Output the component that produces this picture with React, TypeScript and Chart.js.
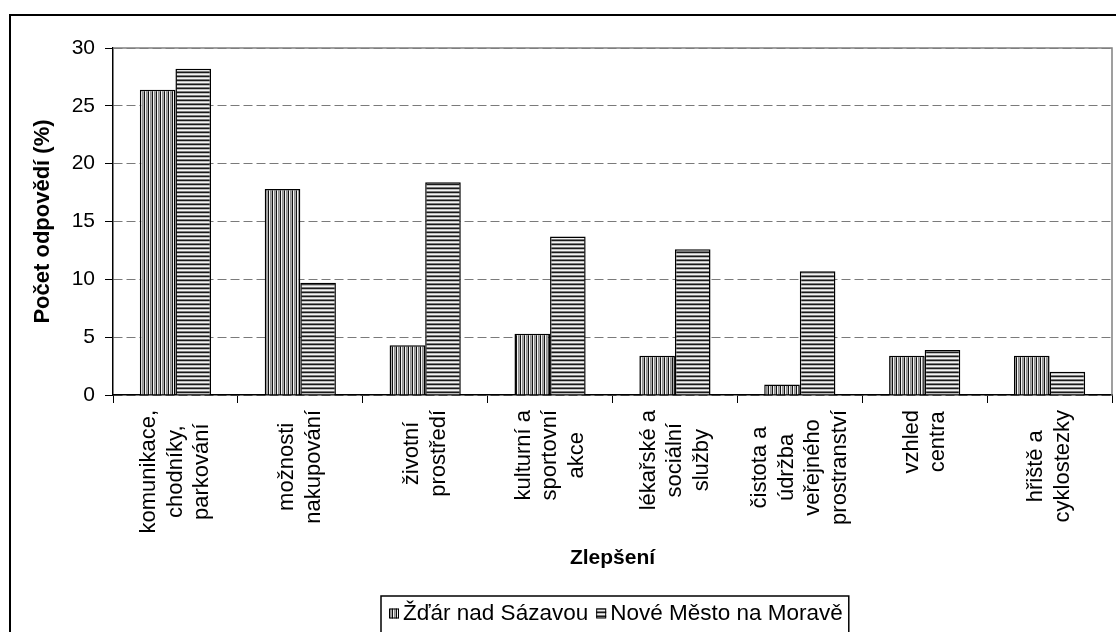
import React, { useEffect, useRef } from "react";
import { Chart, registerables } from "chart.js";

Chart.register(...registerables);

const categories: string[][] = [
  ["komunikace,", "chodníky,", "parkování"],
  ["možnosti", "nakupování"],
  ["životní", "prostředí"],
  ["kulturní a", "sportovní", "akce"],
  ["lékařské a", "sociální", "služby"],
  ["čistota a", "údržba", "veřejného", "prostranství"],
  ["vzhled", "centra"],
  ["hřiště a", "cyklostezky"],
];
const seriesNames = ["Žďár nad Sázavou", "Nové Město na Moravě"];
const zdarValues = [26.4, 17.8, 4.3, 5.3, 3.4, 0.9, 3.4, 3.4];
const noveValues = [28.2, 9.7, 18.4, 13.7, 12.6, 10.7, 3.9, 2.0];
const yTicks = [0, 5, 10, 15, 20, 25, 30];
const yTitle = "Počet odpovědí (%)";
const xTitle = "Zlepšení";

const FONT = '"Liberation Sans", Arial, sans-serif';

function makePattern(vertical: boolean): CanvasPattern | string {
  const c = document.createElement("canvas");
  c.width = 4;
  c.height = 4;
  const g = c.getContext("2d");
  if (!g) return "#999";
  const cols = vertical ? ["#111", "#f4f4f4", "#8f8f8f", "#a8a8a8"] : ["#1a1a1a", "#bdbdbd", "#f4f4f4", "#7a7a7a"];
  for (let i = 0; i < 4; i++) {
    g.fillStyle = cols[i];
    if (vertical) g.fillRect(i, 0, 1, 4);
    else g.fillRect(0, i, 4, 1);
  }
  return g.createPattern(c, "repeat") || "#999";
}

export default function App() {
  const ref = useRef<HTMLCanvasElement | null>(null);

  useEffect(() => {
    if (!ref.current) return;
    const patV = makePattern(true);
    const patH = makePattern(false);
    const patterns = [patV, patH];

    const decor = {
      id: "decor",
      beforeDraw(chart: any) {
        const ctx = chart.ctx;
        ctx.save();
        ctx.fillStyle = "#fff";
        ctx.fillRect(0, 0, chart.width, chart.height);
        ctx.restore();
      },
      afterDraw(chart: any) {
        const ctx = chart.ctx;
        const { left, right, top, bottom } = chart.chartArea;
        ctx.save();
        ctx.strokeStyle = "#808080";
        ctx.lineWidth = 1.5;
        ctx.beginPath();
        ctx.moveTo(left, top);
        ctx.lineTo(right, top);
        ctx.lineTo(right, bottom);
        ctx.stroke();
        ctx.strokeStyle = "#000";
        ctx.lineWidth = 2;
        ctx.beginPath();
        ctx.moveTo(10, 700);
        ctx.lineTo(10, 15);
        ctx.lineTo(1200, 15);
        ctx.stroke();

        const xs = chart.scales.x;
        ctx.font = `22px ${FONT}`;
        ctx.fillStyle = "#000";
        const labels: string[][] = chart.data.labels;
        labels.forEach((lines, i) => {
          const x = xs.getPixelForValue(i);
          const maxW = Math.max(...lines.map((l) => ctx.measureText(l).width));
          const cy = 410 + maxW / 2;
          const n = lines.length;
          const lh = 26.5;
          lines.forEach((line, j) => {
            ctx.save();
            ctx.translate(x + (j - (n - 1) / 2) * lh, cy);
            ctx.rotate(-Math.PI / 2);
            ctx.textAlign = "center";
            ctx.textBaseline = "middle";
            ctx.fillText(line, 0, 0);
            ctx.restore();
          });
        });

        const ds = chart.data.datasets;
        ctx.font = `22.5px ${FONT}`;
        const boxX = 381;
        const boxY = 596;
        const boxH = 33;
        let cx = boxX + 8;
        const cyL = boxY + boxH / 2 + 1;
        const items: { x: number; tx: number; w: number }[] = [];
        ds.forEach((d: any) => {
          const w = ctx.measureText(d.label).width;
          items.push({ x: cx, tx: cx + 14, w });
          cx += 14 + w + 8;
        });
        const boxW = cx - 8 + 6 - boxX;
        ctx.strokeStyle = "#000";
        ctx.lineWidth = 1.5;
        ctx.strokeRect(boxX, boxY, boxW, boxH + 6);
        ds.forEach((d: any, i: number) => {
          const it = items[i];
          ctx.fillStyle = patterns[i];
          ctx.fillRect(it.x, cyL - 5, 10, 10);
          ctx.lineWidth = 1;
          ctx.strokeStyle = "#000";
          ctx.strokeRect(it.x + 0.5, cyL - 4.5, 9, 9);
          ctx.fillStyle = "#000";
          ctx.textAlign = "left";
          ctx.textBaseline = "middle";
          ctx.fillText(d.label, it.tx, cyL);
        });
        ctx.restore();
      },
    };

    const chart = new Chart(ref.current, {
      type: "bar",
      data: {
        labels: categories as any,
        datasets: [
          {
            label: seriesNames[0],
            data: zdarValues,
            backgroundColor: patV as any,
            borderColor: "#000",
            borderWidth: 1.5,
            categoryPercentage: 0.57,
            barPercentage: 1,
          },
          {
            label: seriesNames[1],
            data: noveValues,
            backgroundColor: patH as any,
            borderColor: "#000",
            borderWidth: 1.5,
            categoryPercentage: 0.57,
            barPercentage: 1,
          },
        ],
      },
      options: {
        animation: false,
        responsive: false,
        devicePixelRatio: 1,
        layout: { padding: { top: 48, right: 4, bottom: 0, left: 0 } },
        plugins: {
          legend: { display: false },
          tooltip: { enabled: false },
        },
        scales: {
          x: {
            offset: true,
            grid: {
              offset: true,
              drawOnChartArea: false,
              drawTicks: true,
              tickLength: 8,
              tickColor: "#000",
              tickWidth: 1,
            },
            border: { display: true, color: "#000", width: 1.5 },
            ticks: { display: false },
            title: {
              display: true,
              text: xTitle,
              color: "#000",
              font: { family: FONT, size: 21, weight: "bold" },
              padding: { top: 0, bottom: 61 },
            },
            afterFit: (scale: any) => {
              scale.height = 237;
            },
          },
          y: {
            min: 0,
            max: 30,
            afterBuildTicks: (scale: any) => {
              scale.ticks = yTicks.map((v) => ({ value: v }));
            },
            grid: {
              color: "#7a7a7a",
              lineWidth: 1,
              drawTicks: true,
              tickLength: 8,
              tickColor: "#000",
              tickWidth: 1,
            },
            border: { display: true, color: "#000", width: 1.5, dash: [9, 4] },
            ticks: {
              color: "#000",
              padding: 10,
              font: { family: FONT, size: 21 },
            },
            title: {
              display: true,
              text: yTitle,
              color: "#000",
              font: { family: FONT, size: 22, weight: "bold" },
              padding: { top: 30, bottom: 0 },
            },
            afterFit: (scale: any) => {
              scale.width = 113;
            },
          },
        },
      },
      plugins: [decor],
    } as any);

    return () => chart.destroy();
  }, []);

  return (
    <div style={{ position: "fixed", left: 0, top: 0, width: 1116, height: 632, background: "#fff" }}>
      <canvas ref={ref} width={1116} height={632} style={{ display: "block", width: 1116, height: 632 }} />
    </div>
  );
}
